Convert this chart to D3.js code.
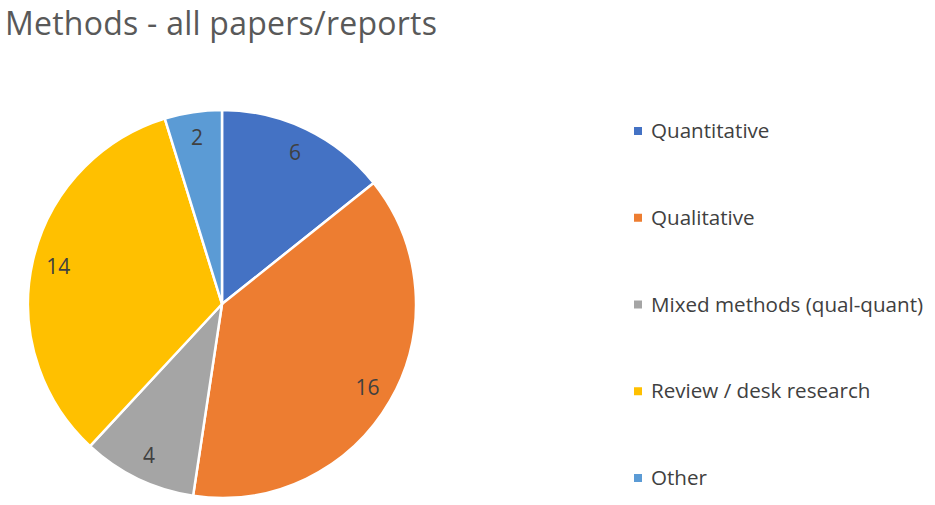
<!DOCTYPE html>
<html>
<head>
<meta charset="utf-8">
<script src="https://cdn.jsdelivr.net/npm/d3@7"></script>
<style>
  body { margin: 0; background: #fff; }
  svg { display: block; font-family: "Segoe UI", "Open Sans", sans-serif; }
</style>
</head>
<body>
<div id="chart"></div>
<script>
const categories = ["Quantitative", "Qualitative", "Mixed methods (qual-quant)", "Review / desk research", "Other"];
const values = [6, 16, 4, 14, 2];
const colors = ["#4472C4", "#ED7D31", "#A5A5A5", "#FFC000", "#5B9BD5"];

const width = 935;
const height = 505;
const cx = 222, cy = 304, radius = 194;

const svg = d3.select('#chart').append('svg')
  .attr('width', width)
  .attr('height', height)
  .attr('viewBox', [0, 0, width, height]);

svg.append('text')
  .attr('x', 5)
  .attr('y', 35)
  .attr('fill', '#595959')
  .attr('font-size', 32)
  .attr('textLength', 432)
  .text('Methods - all papers/reports');

const data = categories.map((c, i) => ({ name: c, value: values[i], color: colors[i] }));

const pie = d3.pie()
  .sort(null)
  .value((d) => d.value);

const arcs = pie(data);

const arc = d3.arc().innerRadius(0).outerRadius(radius);
const labelArc = d3.arc().innerRadius(168).outerRadius(168);

const g = svg.append('g')
  .attr('transform', `translate(${cx},${cy})`);

g.selectAll('path')
  .data(arcs)
  .join('path')
    .attr('d', arc)
    .attr('fill', (d) => d.data.color)
    .attr('stroke', '#fff')
    .attr('stroke-width', 2.5)
    .attr('stroke-linejoin', 'round');

g.selectAll('text')
  .data(arcs)
  .join('text')
    .attr('transform', (d) => `translate(${labelArc.centroid(d)})`)
    .attr('text-anchor', 'middle')
    .attr('dy', '0.35em')
    .attr('fill', '#404040')
    .attr('font-size', 21)
    .text((d) => d.data.value);

// legend
const legendY = d3.scalePoint()
  .domain(categories)
  .range([138, 485]);

const legend = svg.append('g').selectAll('g')
  .data(data)
  .join('g')
    .attr('transform', (d) => `translate(634,${legendY(d.name)})`);

legend.append('rect')
  .attr('x', 0)
  .attr('y', -11)
  .attr('width', 8)
  .attr('height', 8)
  .attr('fill', (d) => d.color);

legend.append('text')
  .attr('x', 17)
  .attr('y', 0)
  .attr('fill', '#404040')
  .attr('font-size', 20.6)
  .text((d) => d.name);
</script>
</body>
</html>
